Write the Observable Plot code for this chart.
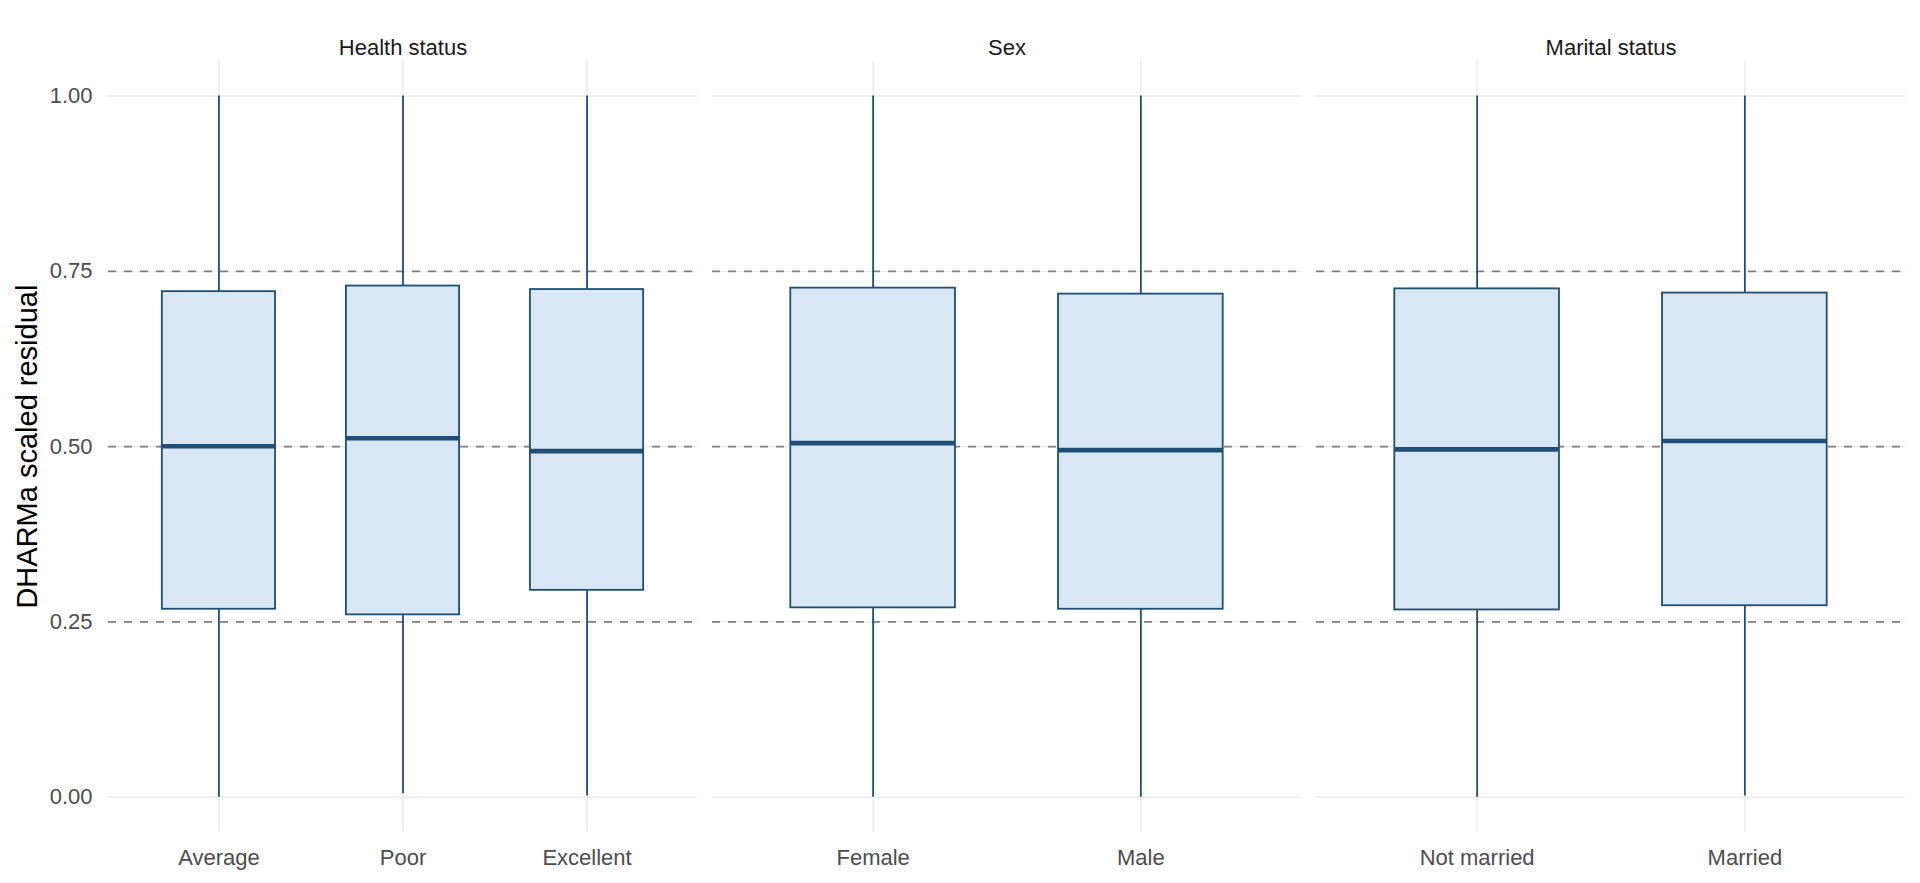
<!DOCTYPE html>
<html>
<head>
<meta charset="utf-8">
<script src="https://cdn.jsdelivr.net/npm/d3@7"></script>
<script src="https://cdn.jsdelivr.net/npm/@observablehq/plot@0.6"></script>
<style>
  html, body { margin: 0; padding: 0; background: #ffffff; }
  #chart { display: flex; flex-direction: row; align-items: flex-start; width: 1920px; height: 883px; overflow: hidden; }
  svg { font-family: "Liberation Sans", Arial, sans-serif; }
</style>
</head>
<body>
<div id="chart"></div>
<script>
// ---- data ----
const panels = ["Health status", "Sex", "Marital status"];
const groups = ["Health status", "Health status", "Health status", "Sex", "Sex", "Marital status", "Marital status"];
const categories = ["Average", "Poor", "Excellent", "Female", "Male", "Not married", "Married"];
const lowerWhisker = [0.000, 0.005, 0.0015, 0.000, 0.000, 0.000, 0.0015];
const q1 = [0.268, 0.260, 0.295, 0.270, 0.268, 0.267, 0.273];
const median = [0.5005, 0.512, 0.4935, 0.505, 0.495, 0.496, 0.508];
const q3 = [0.721, 0.729, 0.724, 0.726, 0.7175, 0.725, 0.719];
const upperWhisker = [1.0, 1.0, 1.0, 1.0, 1.0, 1.0, 1.0];
const yTicks = [0, 0.25, 0.5, 0.75, 1.0];
const dashLevels = [0.25, 0.5, 0.75];
const yLabel = "DHARMa scaled residual";

const rows = categories.map((c, i) => ({
  group: groups[i], category: c,
  lower: lowerWhisker[i], q1: q1[i], median: median[i], q3: q3[i], upper: upperWhisker[i]
}));

const boxStroke = "#1f4e79";
const boxFill = "#d9e7f4";
const gridColor = "#ebebeb";

function makePanel(panel, idx) {
  const data = rows.filter(d => d.group === panel);
  const first = idx === 0;
  const last = idx === panels.length - 1;
  const marginLeft = first ? 108 : 15;
  const marginRight = last ? 15 : 0;
  const width = marginLeft + 589 + marginRight;
  const marks = [
    Plot.gridY({ticks: yTicks, stroke: gridColor, strokeOpacity: 1, strokeWidth: 1.4}),
    Plot.gridX({stroke: gridColor, strokeOpacity: 1, strokeWidth: 1.4}),
    Plot.ruleY(dashLevels, {stroke: "#808080", strokeWidth: 1.6, strokeDasharray: "8,8"}),
    Plot.ruleX(data, {x: "category", y1: "lower", y2: "upper", stroke: boxStroke, strokeWidth: 1.8}),
    Plot.barY(data, {x: "category", y1: "q1", y2: "q3", fill: boxFill, stroke: boxStroke, strokeWidth: 1.8}),
    Plot.tickY(data, {x: "category", y: "median", stroke: boxStroke, strokeWidth: 4.6}),
    Plot.axisX({tickSize: 0, tickPadding: 17, fontSize: 22, color: "#4d4d4d", label: null}),
    Plot.text([panel], {frameAnchor: "top", dy: -21.5, fontSize: 22, fill: "#1a1a1a"})
  ];
  if (first) {
    marks.push(
      Plot.axisY({ticks: yTicks, tickFormat: d3.format(".2f"), tickSize: 0, tickPadding: 16, fontSize: 22, color: "#4d4d4d", label: null}),
      Plot.text([yLabel], {frameAnchor: "left", textAnchor: "middle", lineAnchor: "middle", dx: -81, rotate: -90, fontSize: 29, fill: "#000000"})
    );
  } else {
    marks.push(Plot.axisY({ticks: [], label: null}));
  }
  return Plot.plot({
    width, height: 883,
    marginLeft, marginRight, marginTop: 60.5, marginBottom: 51.3,
    style: {fontFamily: "'Liberation Sans', Arial, sans-serif", background: "#ffffff", overflow: "visible"},
    x: {type: "band", domain: data.map(d => d.category), paddingInner: 0.385, paddingOuter: 0.2925, align: 0.5, round: false, label: null},
    y: {domain: [-0.05, 1.05], label: null},
    marks
  });
}

const chart = document.getElementById("chart");
panels.forEach((p, i) => chart.appendChild(makePanel(p, i)));
</script>
</body>
</html>
